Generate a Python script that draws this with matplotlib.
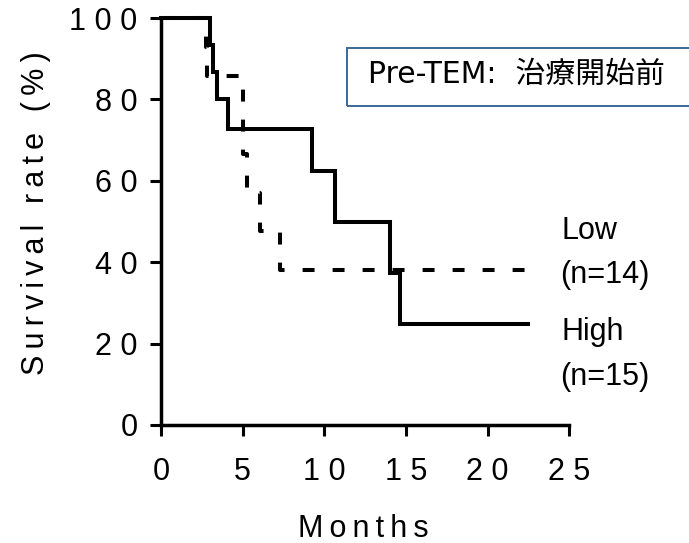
import matplotlib
matplotlib.use("Agg")
import matplotlib.pyplot as plt
from matplotlib.patches import Rectangle

plt.rcParams['font.family'] = ['Liberation Sans', 'DejaVu Sans']
plt.rcParams['lines.scale_dashes'] = False

# ---- data ----
high_months = [0, 3.0, 3.2, 3.45, 4.1, 9.25, 10.65, 14.0, 14.65, 22.5]
high_surv = [100, 93.3, 86.7, 80.0, 72.7, 62.3, 49.8, 37.4, 24.9, 24.9]
low_months = [0, 2.75, 2.8, 5.0, 5.25, 6.05, 7.3, 22.5]
low_surv = [100, 92.9, 85.7, 66.7, 57.1, 47.6, 38.1, 38.1]

x_ticks = [0, 5, 10, 15, 20, 25]
x_ticklabels = ["0", "5", "1 0", "1 5", "2 0", "2 5"]
y_ticks = [0, 20, 40, 60, 80, 100]
y_ticklabels = ["0", "2 0", "4 0", "6 0", "8 0", "1 0 0"]

W, H = 689, 543
fig = plt.figure(figsize=(W / 100, H / 100), dpi=100)

x0, x1 = 161, 569.3
y0, y1 = 425, 18
ax = fig.add_axes([x0 / W, 1 - y0 / H, (x1 - x0) / W, (y0 - y1) / H])

lw = 2.9
ax.plot(high_months, high_surv, drawstyle='steps-post', color='black',
        lw=lw, solid_joinstyle='miter', clip_on=False)
ax.plot(low_months, low_surv, drawstyle='steps-post', color='black',
        lw=lw, linestyle=(19, (8.6, 13.0)), dash_capstyle='butt',
        clip_on=False)

ax.set_xlim(0, 25)
ax.set_ylim(0, 100)
for s in ['top', 'right']:
    ax.spines[s].set_visible(False)
for s in ['left', 'bottom']:
    ax.spines[s].set_linewidth(2.5)

ax.set_xticks(x_ticks)
ax.set_xticklabels(x_ticklabels)
ax.set_yticks(y_ticks)
ax.set_yticklabels(y_ticklabels)
ax.tick_params(axis='both', direction='out', length=8, width=2.2,
               labelsize=22, colors='black')
ax.tick_params(axis='x', pad=15)
ax.tick_params(axis='y', pad=9)

thin = "\u2009"
wsep = thin + " " + thin
ylab = wsep.join([thin.join("Survival"), thin.join("rate"), thin.join("(%)")])
fig.text(36 / W, 1 - 213 / H, ylab, rotation=90, ha='center', va='center',
         fontsize=22)
fig.text(363 / W, 1 - 537 / H, thin.join("Months"), ha='center',
         va='baseline', fontsize=22)

# group labels
fig.text(562 / W, 1 - 239 / H, "Low", ha='left', va='baseline', fontsize=22)
fig.text(560 / W, 1 - 283 / H, "(n=14)", ha='left', va='baseline', fontsize=22)
fig.text(562 / W, 1 - 340 / H, "High", ha='left', va='baseline', fontsize=22)
fig.text(560 / W, 1 - 385 / H, "(n=15)", ha='left', va='baseline', fontsize=22)

# title box
rect = Rectangle((347 / W, 1 - 106 / H), 400 / W, 58 / H,
                 transform=fig.transFigure, fill=False,
                 edgecolor='#3B6898', lw=1.4)
fig.patches.append(rect)
fig.text(368 / W, 1 - 83 / H, "Pre-TEM:  治療開始前", ha='left', va='baseline',
         fontsize=21.5, family=['DejaVu Sans', 'Noto Sans CJK JP'])

fig.savefig("out.png", dpi=100)
